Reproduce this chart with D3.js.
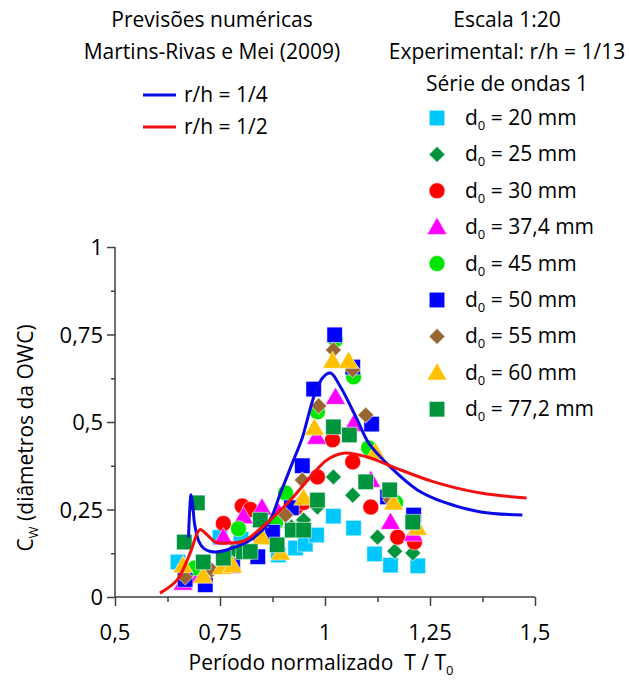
<!DOCTYPE html>
<html><head><meta charset="utf-8">
<script src="https://cdn.jsdelivr.net/npm/d3@7"></script>
<style>body{margin:0;background:#fff}svg{display:block}text{font-family:"Open Sans","Noto Sans",sans-serif;fill:#000}</style>
</head><body><svg id="c" width="629" height="682"></svg>
<script>
const xTicks=[0.5,0.75,1,1.25,1.5];
const yTicks=[0,0.25,0.5,0.75,1];
const xTickLabels=["0,5","0,75","1","1,25","1,5"];
const yTickLabels=["0","0,25","0,5","0,75","1"];
const lineNames=["r/h = 1/4","r/h = 1/2"];
const blueLine=[[0.675,0.17],[0.678,0.25],[0.681,0.292],[0.685,0.262],[0.69,0.205],[0.70,0.158],[0.712,0.138],[0.727,0.13],[0.745,0.129],[0.78,0.14],[0.822,0.163],[0.865,0.211],[0.894,0.297],[0.925,0.391],[0.946,0.455],[0.973,0.571],[0.994,0.626],[1.013,0.64],[1.037,0.6],[1.077,0.506],[1.104,0.44],[1.156,0.371],[1.22,0.306],[1.283,0.271],[1.371,0.243],[1.47,0.234]];
const redLine=[[0.607,0.011],[0.648,0.049],[0.679,0.126],[0.696,0.183],[0.703,0.193],[0.72,0.177],[0.739,0.157],[0.767,0.154],[0.806,0.16],[0.846,0.195],[0.918,0.277],[0.965,0.343],[1.006,0.393],[1.044,0.411],[1.101,0.4],[1.163,0.371],[1.259,0.329],[1.371,0.297],[1.48,0.283]];
const seriesNames=["20 mm","25 mm","30 mm","37,4 mm","45 mm","50 mm","55 mm","60 mm","77,2 mm"];
const d20=[[0.65,0.1],[0.667,0.07],[0.75,0.17],[0.80,0.165],[0.889,0.12],[0.93,0.14],[0.953,0.151],[0.98,0.177],[1.02,0.231],[1.068,0.197],[1.118,0.123],[1.156,0.091],[1.221,0.089]];
const d25=[[0.70,0.07],[0.78,0.13],[0.86,0.17],[0.92,0.2],[0.949,0.22],[0.982,0.257],[1.02,0.343],[1.066,0.291],[1.125,0.171],[1.166,0.131],[1.209,0.126]];
const d30=[[0.758,0.21],[0.803,0.26],[0.822,0.25],[0.93,0.255],[0.949,0.27],[0.982,0.343],[1.018,0.449],[1.066,0.386],[1.109,0.257],[1.173,0.171],[1.213,0.157]];
const d374=[[0.662,0.04],[0.70,0.06],[0.758,0.17],[0.806,0.23],[0.85,0.255],[0.89,0.24],[0.98,0.457],[1.025,0.571],[1.068,0.494],[1.109,0.334],[1.156,0.214],[1.21,0.18]];
const d45=[[0.69,0.083],[0.794,0.195],[0.882,0.212],[0.906,0.297],[0.982,0.529],[1.025,0.735],[1.068,0.629],[1.104,0.426],[1.168,0.27]];
const d50=[[0.667,0.05],[0.715,0.035],[0.78,0.09],[0.84,0.115],[0.875,0.185],[0.92,0.255],[0.946,0.375],[0.973,0.594],[1.023,0.749],[1.066,0.657],[1.111,0.494],[1.149,0.286],[1.211,0.234]];
const d55=[[0.667,0.057],[0.73,0.077],[0.84,0.17],[0.906,0.234],[0.946,0.334],[0.985,0.546],[1.02,0.706],[1.066,0.649],[1.097,0.52],[1.156,0.277],[1.215,0.2]];
const d60=[[0.662,0.09],[0.71,0.06],[0.755,0.085],[0.78,0.09],[0.85,0.17],[0.894,0.126],[0.949,0.283],[0.975,0.483],[1.018,0.674],[1.056,0.674],[1.12,0.414],[1.163,0.269],[1.22,0.197]];
const d772=[[0.665,0.157],[0.696,0.269],[0.71,0.1],[0.758,0.111],[0.806,0.129],[0.822,0.13],[0.846,0.22],[0.886,0.149],[0.922,0.191],[0.949,0.191],[0.982,0.277],[1.02,0.486],[1.058,0.463],[1.097,0.329],[1.154,0.306],[1.209,0.214]];

const seriesData=[d20,d25,d30,d374,d45,d50,d55,d60,d772];
const colors=["#00c8ff","#00943c","#ff0000","#ff00ff","#00e600","#0000ff","#996633","#ffc000","#00943c"];
const shapes=["square","diamond","circle","triangle","circle","square","diamond","triangle","square"];

const svg=d3.select("#c");
const x=d3.scaleLinear().domain([0.5,1.5]).range([115,535]);
const y=d3.scaleLinear().domain([0,1]).range([597,247]);
const axisColor="#404040";
const FS=21;

// axes
const gx=svg.append("g").attr("transform","translate(0,597)");
gx.call(d3.axisBottom(x).tickValues(d3.range(0.5,1.5001,0.125)).tickSize(5).tickFormat(""));
gx.call(g=>g.selectAll(".tick").filter(d=>xTicks.some(t=>Math.abs(t-d)<1e-6)).select("line").attr("y2",9));
gx.selectAll("path,line").attr("stroke",axisColor).attr("stroke-width",1.5);
gx.select("path").attr("d","M115,0H535");
const gy=svg.append("g").attr("transform","translate(115,0)");
gy.call(d3.axisLeft(y).tickValues(d3.range(0,1.0001,0.125)).tickSize(4).tickFormat(""));
gy.call(g=>g.selectAll(".tick").filter(d=>yTicks.some(t=>Math.abs(t-d)<1e-6)).select("line").attr("x2",-8));
gy.selectAll("path,line").attr("stroke",axisColor).attr("stroke-width",1.5);
gy.select("path").attr("d","M0,597V247");

xTicks.forEach((t,i)=>svg.append("text").attr("x",x(t)).attr("y",640).attr("text-anchor","middle").attr("font-size",22).text(xTickLabels[i]));
yTicks.forEach((t,i)=>svg.append("text").attr("x",103).attr("y",y(t)+8).attr("text-anchor","end").attr("font-size",22).text(yTickLabels[i]));

// markers
const sym={square:d3.symbolSquare,diamond:d3.symbolSquare,circle:d3.symbolCircle,triangle:d3.symbolTriangle};
const sz={square:240,diamond:130,circle:200,triangle:170};
function marker(g,shape,color,cx,cy){
  g.append("path").attr("d",d3.symbol().type(sym[shape]).size(sz[shape])())
   .attr("transform",`translate(${cx},${cy+(shape==="triangle"?1.5:0)})`+(shape==="diamond"?" rotate(45)":""))
   .attr("fill",color).attr("stroke","rgba(255,255,255,0.55)").attr("stroke-width",1);
}
const gm=svg.append("g");
seriesData.forEach((s,i)=>s.forEach(p=>marker(gm,shapes[i],colors[i],x(p[0]),y(p[1]))));

// lines
const line=d3.line().x(d=>x(d[0])).y(d=>y(d[1])).curve(d3.curveCatmullRom.alpha(0.5));
svg.append("path").datum(blueLine).attr("d",line).attr("fill","none").attr("stroke","#0a0ae6").attr("stroke-width",3);
svg.append("path").datum(redLine).attr("d",line).attr("fill","none").attr("stroke","#f01010").attr("stroke-width",3);

// left legend
svg.append("text").attr("x",212).attr("y",27).attr("text-anchor","middle").attr("font-size",FS).text("Previsões numéricas");
svg.append("text").attr("x",212).attr("y",59).attr("text-anchor","middle").attr("font-size",FS).text("Martins-Rivas e Mei (2009)");
[["#0a0ae6",95],["#f01010",127]].forEach((c,i)=>{
  svg.append("line").attr("x1",143).attr("x2",176).attr("y1",c[1]).attr("y2",c[1]).attr("stroke",c[0]).attr("stroke-width",3);
  svg.append("text").attr("x",184).attr("y",c[1]+7).attr("font-size",FS).text(lineNames[i]);
});
// right legend
svg.append("text").attr("x",507).attr("y",27).attr("text-anchor","middle").attr("font-size",FS).text("Escala 1:20");
svg.append("text").attr("x",507).attr("y",59).attr("text-anchor","middle").attr("font-size",FS).text("Experimental: r/h = 1/13");
svg.append("text").attr("x",507).attr("y",91).attr("text-anchor","middle").attr("font-size",FS).text("Série de ondas 1");
seriesNames.forEach((n,i)=>{
  const yy=118+i*36.4;
  marker(svg,shapes[i],colors[i],437,yy);
  const t=svg.append("text").attr("x",465).attr("y",yy+7).attr("font-size",FS);
  t.append("tspan").text("d");
  t.append("tspan").attr("font-size",13).attr("dy",5).text("0");
  t.append("tspan").attr("dy",-5).text(" = "+n);
});

// axis titles
const yt=svg.append("text").attr("transform","translate(33,438) rotate(-90)").attr("text-anchor","middle").attr("font-size",FS);
yt.append("tspan").text("C");
yt.append("tspan").attr("font-size",13).attr("dy",5).text("W");
yt.append("tspan").attr("dy",-5).text(" (diâmetros da OWC)");
const xt=svg.append("text").attr("x",321).attr("y",670).attr("text-anchor","middle").attr("font-size",FS).attr("xml:space","preserve");
xt.append("tspan").text("Período normalizado  T / T");
xt.append("tspan").attr("font-size",13).attr("dy",5).text("0");
</script></body></html>
